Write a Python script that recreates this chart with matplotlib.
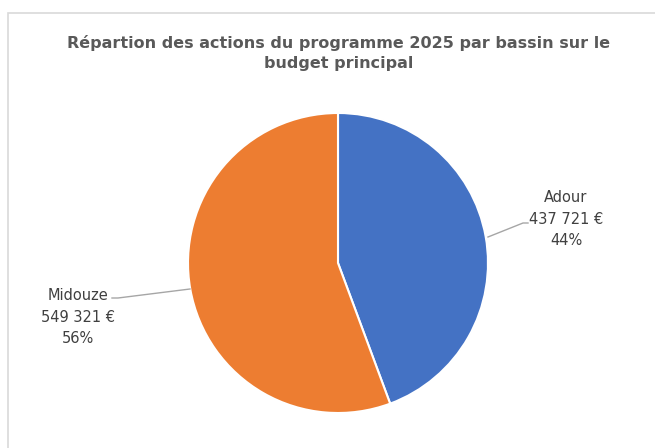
import matplotlib
matplotlib.use("Agg")
from matplotlib import pyplot as plt
from matplotlib.patches import Rectangle

# data
bassins = ["Adour", "Midouze"]
montants = [437721, 549321]
montant_labels = ["437 721 €", "549 321 €"]
couleurs = ["#4472C4", "#ED7D31"]

titleColor = "#595959"
labelColor = "#404040"
fontName = ["DejaVu Sans"]

W, H = 655, 448
fig = plt.figure(figsize=(W / 100, H / 100), dpi=100)
fig.patch.set_facecolor("white")

# chart frame
fig.patches.append(Rectangle((8 / W, -0.1), 1.2, 1 - 13 / H + 0.1,
                             transform=fig.transFigure, fill=False,
                             edgecolor="#D9D9D9", linewidth=1.2))

fig.text(339 / W, 1 - 53 / H,
         "Répartion des actions du programme 2025 par bassin sur le\nbudget principal",
         ha="center", va="center", fontsize=11.5, fontweight="bold",
         color=titleColor, family=fontName, linespacing=1.35)

# pie axes: center (338, 263), radius 150 px
cx, cy, r = 338, 263, 150
ax = fig.add_axes([(cx - r) / W, (H - cy - r) / H, 2 * r / W, 2 * r / H])
ax.pie(montants, colors=couleurs, startangle=90, counterclock=False,
       radius=1, wedgeprops=dict(edgecolor="white", linewidth=1.5))
ax.set_xlim(-1, 1)
ax.set_ylim(-1, 1)
ax.set_aspect("equal")
ax.axis("off")

total = sum(montants)
pcts = ["%d%%" % round(100 * m / total) for m in montants]

def px(x, y):
    return ((x - cx) / r, (cy - y) / r)

# Adour label
lx, ly = zip(px(488, 237), px(523, 223), px(528, 223))
ax.plot(lx, ly, color="#A6A6A6", linewidth=1, clip_on=False)
tx, ty = px(566, 219)
ax.text(tx, ty, "%s\n%s\n%s" % (bassins[0], montant_labels[0], pcts[0]),
        ha="center", va="center", fontsize=10.5, color=labelColor,
        family=fontName, linespacing=1.55)

# Midouze label
lx, ly = zip(px(112, 298), px(118, 298), px(190, 289))
ax.plot(lx, ly, color="#A6A6A6", linewidth=1, clip_on=False)
tx, ty = px(78, 317)
ax.text(tx, ty, "%s\n%s\n%s" % (bassins[1], montant_labels[1], pcts[1]),
        ha="center", va="center", fontsize=10.5, color=labelColor,
        family=fontName, linespacing=1.55)

fig.savefig("out.png", dpi=100)
